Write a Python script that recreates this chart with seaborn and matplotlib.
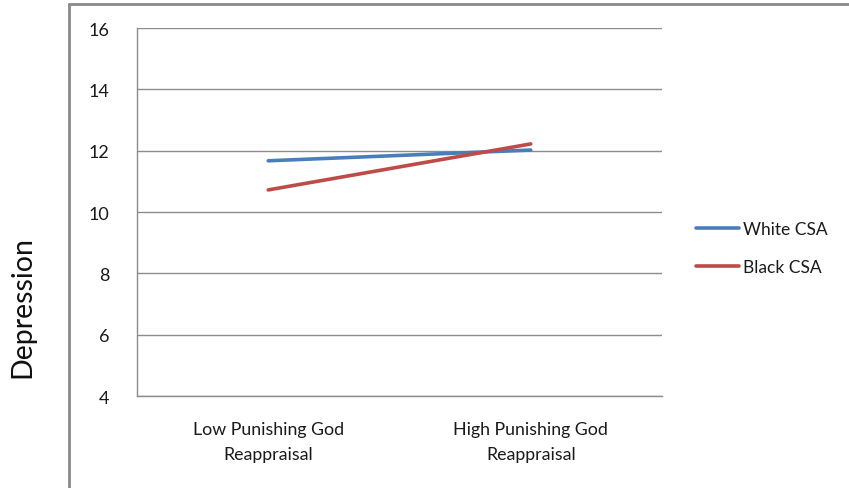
import matplotlib
matplotlib.use("Agg")
import matplotlib.pyplot as plt
from matplotlib.lines import Line2D
import seaborn as sns
import pandas as pd

categories = ["Low Punishing God\nReappraisal", "High Punishing God\nReappraisal"]
white_csa = [11.67, 12.02]
black_csa = [10.72, 12.22]
series_names = ["White CSA", "Black CSA"]
y_ticks = [4, 6, 8, 10, 12, 14, 16]

df = pd.DataFrame({
    "Reappraisal": categories * 2,
    "Depression": white_csa + black_csa,
    "Group": [series_names[0]] * 2 + [series_names[1]] * 2,
})

sns.set_theme(style="white")
plt.rcParams["font.family"] = ["Lato", "DejaVu Sans"]

grid_col = "#8c8c8c"
text_col = "#1a1a1a"
fig = plt.figure(figsize=(8.49, 4.89), dpi=100)
ax = fig.add_axes([137 / 849, 1 - 397 / 489, (662 - 137) / 849, (397 - 29) / 489])

sns.lineplot(data=df, x="Reappraisal", y="Depression", hue="Group",
             palette=["#4A7EBB", "#BE4B48"], linewidth=2.6, ax=ax,
             sort=False, legend=False)

ax.set_xlim(-0.5, 1.5)
ax.set_ylim(4, 16)
ax.set_yticks(y_ticks)
ax.set_yticklabels([str(t) for t in y_ticks], fontsize=13, color=text_col)
ax.set_xticks([-0.5, 1.5], minor=False)
ax.set_xticklabels(["", ""])
ax.set_xticks([0, 1], minor=True)
ax.set_xticklabels(categories, minor=True, fontsize=12.8, color=text_col,
                   linespacing=1.7)
ax.tick_params(axis="x", which="minor", length=0, pad=18)
ax.tick_params(axis="x", which="major", length=5, color=grid_col, direction="out", width=1)
ax.tick_params(axis="y", length=6, color=grid_col, direction="out", width=1, pad=14)
ax.yaxis.grid(True, color=grid_col, linewidth=1)
ax.xaxis.grid(False)
ax.set_axisbelow(True)
for side in ["top", "right"]:
    ax.spines[side].set_visible(False)
for side in ["left", "bottom"]:
    ax.spines[side].set_color(grid_col)
    ax.spines[side].set_linewidth(1)
ax.set_xlabel("")
ax.set_ylabel("")

fig.text(22 / 849, 1 - 307 / 489, "Depression", rotation=90, ha="center",
         va="center", fontsize=20.5, color="#111111")

handles = [Line2D([], [], color="#4A7EBB", linewidth=2.6),
           Line2D([], [], color="#BE4B48", linewidth=2.6)]
fig.legend(handles, series_names, loc="center left",
           bbox_to_anchor=(680 / 849, 1 - 249 / 489), frameon=False,
           fontsize=12.5, handlelength=2.5, handletextpad=0.25,
           labelspacing=1.25, labelcolor=text_col)

# outer chart-area border (left and top edges)
fig.add_artist(Line2D([69 / 849, 69 / 849], [0, 1 - 5 / 489],
                      transform=fig.transFigure, color="#8a8a8a", linewidth=2))
fig.add_artist(Line2D([69 / 849, 1], [1 - 5 / 489, 1 - 5 / 489],
                      transform=fig.transFigure, color="#8a8a8a", linewidth=2))

fig.savefig("out.png", dpi=100)
